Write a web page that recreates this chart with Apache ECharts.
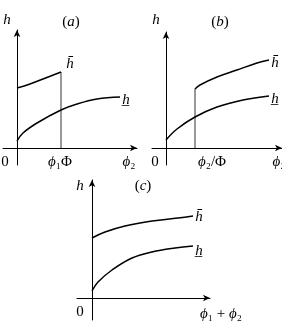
<!DOCTYPE html>
<html>
<head>
<meta charset="utf-8">
<script src="https://cdn.jsdelivr.net/npm/echarts@6/dist/echarts.min.js"></script>
<style>
  html, body { margin: 0; padding: 0; background: #fff; }
  #myChart { width: 282px; height: 324px; }
</style>
</head>
<body>
<div id="myChart"></div>
<script>
// points, [x, h]; origin of each panel is where the axes cross
var aUpper = [[0, 60], [13, 64], [26, 69], [44, 76]]
var aLower = [[0, 7], [6, 15], [20, 25], [44, 38], [60, 44], [80, 49], [103, 51]]
var aCut = [[44, 0], [44, 76]]

var bUpper = [[29, 59], [34, 63], [51, 71], [71, 78], [91, 85], [103, 88]]
var bLower = [[0, 8], [11, 19], [29, 31], [51, 41], [77, 48], [103, 52]]
var bCut = [[29, 0], [29, 59]]

var cUpper = [[0, 60], [13, 66], [33, 72], [60, 77], [86, 80], [101, 82]]
var cLower = [[0, 7], [6, 16], [20, 28], [40, 40], [60, 46], [83, 50], [101, 52]]

var serif = '"Liberation Serif", "DejaVu Serif", serif'

function axis (idx, min, max) {
  return {
    type: 'value',
    gridIndex: idx,
    min: min,
    max: max,
    axisLine: {
      show: true,
      onZero: true,
      symbol: ['none', 'arrow'],
      symbolSize: [5, 7],
      lineStyle: { color: '#000', width: 1 }
    },
    axisTick: { show: false },
    axisLabel: { show: false },
    splitLine: { show: false }
  }
}

function curve (idx, data) {
  return {
    type: 'line',
    xAxisIndex: idx,
    yAxisIndex: idx,
    data: data,
    smooth: 0.4,
    showSymbol: false,
    silent: true,
    lineStyle: { color: '#000', width: 1.5 }
  }
}

function cut (idx, data) {
  return {
    type: 'line',
    xAxisIndex: idx,
    yAxisIndex: idx,
    data: data,
    showSymbol: false,
    silent: true,
    lineStyle: { color: '#333', width: 1 }
  }
}

function txt (x, y, text) {
  return {
    type: 'text',
    x: x,
    y: y,
    style: {
      text: text,
      font: 'italic 15px ' + serif,
      fill: '#000',
      align: 'center',
      verticalAlign: 'middle',
      rich: rich
    }
  }
}

// p = upright, i = italic
var rich = {
  p: { fontStyle: 'normal', fontSize: 15, fontFamily: serif },
  i: { fontStyle: 'italic', fontSize: 15, fontFamily: serif }
}

var myChart = echarts.init(document.getElementById('myChart'))
var option = {
  animation: false,
  grid: [
    { left: 3, top: 30, width: 134, height: 135 },
    { left: 152, top: 32, width: 130, height: 133 },
    { left: 77, top: 180, width: 133, height: 140 }
  ],
  xAxis: [axis(0, -14, 120), axis(1, -14, 116), axis(2, -15, 118)],
  yAxis: [axis(0, -17, 118), axis(1, -17, 116), axis(2, -22, 118)],
  series: [
    cut(0, aCut),
    curve(0, aUpper),
    curve(0, aLower),
    cut(1, bCut),
    curve(1, bUpper),
    curve(1, bLower),
    curve(2, cUpper),
    curve(2, cLower)
  ],
  graphic: [
    txt(7, 20, 'h'),
    txt(71, 22, '{p|(}{i|a}{p|)}'),
    txt(5, 162, '{p|0}'),
    txt(60, 162, 'ϕ{p|₁Φ}'),
    txt(129, 162, 'ϕ{p|₂}'),
    txt(70, 64, 'h̄'),
    txt(126, 100, 'h̲'),

    txt(156, 20, 'h'),
    txt(220, 22, '{p|(}{i|b}{p|)}'),
    txt(155, 162, '{p|0}'),
    txt(212, 162, 'ϕ{p|₂/Φ}'),
    txt(279, 162, 'ϕ{p|₂}'),
    txt(275, 63, 'h̄'),
    txt(275, 99, 'h̲'),

    txt(80, 186, 'h'),
    txt(143, 186, '{p|(}{i|c}{p|)}'),
    txt(80, 312, '{p|0}'),
    txt(221, 314, 'ϕ{p|₁ + }ϕ{p|₂}'),
    txt(199, 217, 'h̄'),
    txt(199, 251, 'h̲')
  ]
}
myChart.setOption(option, true)
</script>
</body>
</html>
